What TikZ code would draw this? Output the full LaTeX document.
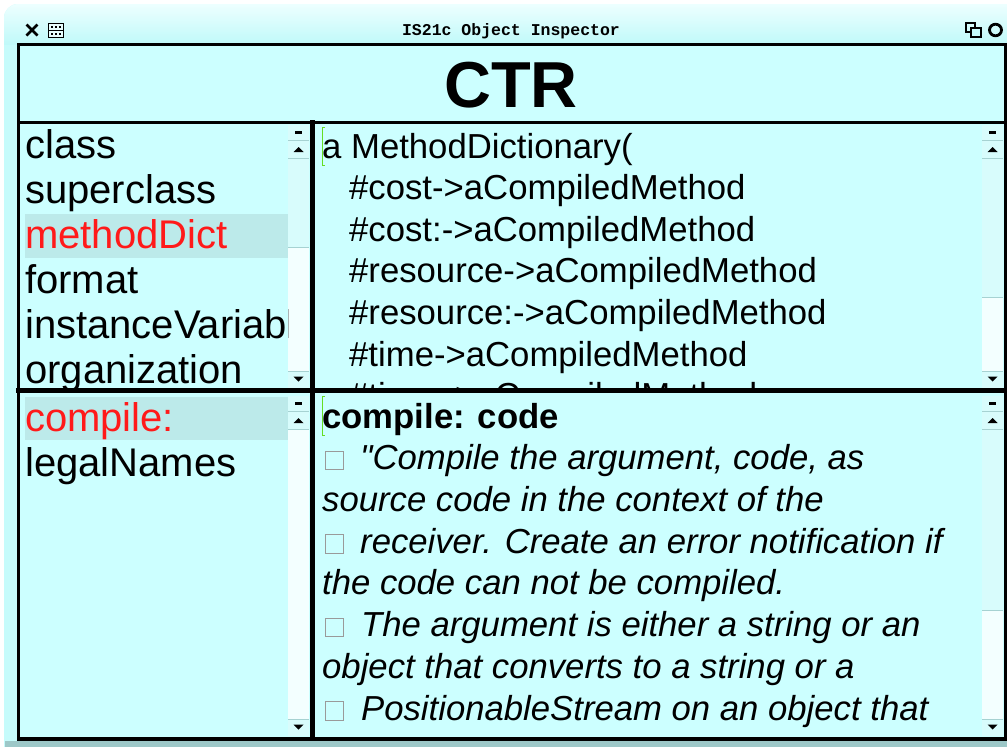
\documentclass[tikz,border=0pt]{standalone}
\usepackage{fontspec}
\setmainfont{Liberation Sans}
\newfontfamily\titlefont{Liberation Mono}
\newfontfamily\rawsans{Liberation Sans}
\definecolor{winbg}{HTML}{C6FBFB}
\definecolor{titletop}{HTML}{EEFFFF}
\definecolor{titlebot}{HTML}{C0F9F9}
\definecolor{panebg}{HTML}{CCFFFF}
\definecolor{hilite}{HTML}{BCEAEA}
\definecolor{trackA}{HTML}{D8FCFC}
\definecolor{trackB}{HTML}{F3FFFF}
\definecolor{sbline}{HTML}{A6D2D2}
\definecolor{band}{HTML}{9DC8C8}
\definecolor{redtext}{HTML}{FF1A1A}
\definecolor{cursorgreen}{HTML}{66DD22}
\definecolor{boxgray}{HTML}{9A9A9A}
\newcommand{\sbar}[4]{%
  \fill[trackA] (#1,#2) rectangle ({#1+21},#4);
  \fill[trackB] (#1,#4) rectangle ({#1+21},#3);
  \fill[trackA] (#1,{#3-17}) rectangle ({#1+21},#3);
  \draw[sbline,line width=0.9pt] (#1,{#2+15}) -- ({#1+21},{#2+15});
  \draw[sbline,line width=0.9pt] (#1,{#2+33}) -- ({#1+21},{#2+33});
  \draw[sbline,line width=0.9pt] (#1,#4) -- ({#1+21},#4);
  \draw[sbline,line width=0.9pt] (#1,{#3-17}) -- ({#1+21},{#3-17});
  \fill[black] ({#1+7},{#2+6}) rectangle ({#1+14},{#2+9});
  \fill[black] ({#1+5.5},{#2+27}) -- ({#1+15.5},{#2+27}) -- ({#1+10.5},{#2+22}) -- cycle;
  \fill[black] ({#1+5.5},{#3-11.5}) -- ({#1+15.5},{#3-11.5}) -- ({#1+10.5},{#3-6.5}) -- cycle;
}
\begin{document}
\begin{tikzpicture}[x=1pt,y=-1pt,
  lt/.style={anchor=base west,inner sep=0pt,font=\fontsize{40}{40}\selectfont},
  rt/.style={anchor=base west,inner sep=0pt,font=\fontsize{34.7}{35}\selectfont},
  ri/.style={anchor=base west,inner sep=0pt,font=\fontsize{34.7}{35}\selectfont\itshape},
  rb/.style={anchor=base west,inner sep=0pt,font=\fontsize{34.7}{35}\selectfont\bfseries},
  chk/.style={draw=boxgray,line width=1pt},
  frame/.style={black,line cap=rect},
  cur/.style={cursorgreen,line width=1pt}]
\useasboundingbox (0,0) rectangle (1007,747);
\fill[white] (0,0) rectangle (1007,747);
% window
\fill[winbg] (4,747) -- (4,18) arc[start angle=180,end angle=270,radius=14] -- (1007,4) -- (1007,747) -- cycle;
\begin{scope}
  \clip (4,747) -- (4,18) arc[start angle=180,end angle=270,radius=14] -- (1007,4) -- (1007,747) -- cycle;
  \shade[top color=titletop,bottom color=titlebot] (0,3) rectangle (1007,44);
\end{scope}
\fill[band] (5,741) rectangle (1007,747);
% title bar
\node[name=title,inner sep=0pt,anchor=base,font=\titlefont\bfseries\fontsize{16.5}{17}\selectfont] at (511,35) {IS21c Object Inspector};
\draw[line width=2.8pt] (26.5,24.5) -- (37.5,35.5) (26.5,35.5) -- (37.5,24.5);
\draw[line width=1pt,fill=white!60!winbg] (48,23) rectangle (63,37);
\draw[line width=0.8pt] (48,30) -- (63,30);
\foreach \xx in {51,55,59} {\fill (\xx,25.5) rectangle (\xx+2,27.5); \fill (\xx,32.5) rectangle (\xx+2,34.5);}
\draw[line width=1.1pt] (966,23) rectangle (975,32);
\draw[line width=1.1pt,fill=winbg] (971,28) rectangle (981,37);
\draw[line width=2.8pt] (995.5,30) ellipse[x radius=6,y radius=5.8];
% panes background
\fill[panebg] (18.5,44) rectangle (1005,738.7);
% scrollbars
\sbar{288}{125}{388}{247}
\sbar{982}{125}{388}{297}
\sbar{288}{396}{736}{429}
\sbar{982}{396}{736}{610}
% header
\node[name=ctr,anchor=base,inner sep=0pt,font=\fontsize{65}{65}\selectfont\bfseries] at (511,107) {CTR};
% top-left list
\begin{scope}
  \clip (20,125) rectangle (288,388);
  \fill[hilite] (25,214) rectangle (288,258);
  \node[lt,name=l1] at (25,158) {class};
  \node[lt,name=l2] at (25,203) {superclass};
  \node[lt,name=l3,text=redtext] at (25,248) {methodDict};
  \node[lt,name=l4] at (25,293) {format};
  \node[lt,name=l5] at (25,338) {instanceVariables};
  \node[lt,name=l6] at (25,383) {organization};
\end{scope}
% top-right value
\begin{scope}
  \clip (316,125) rectangle (982,388);
  \draw[cur] (325,127) -- (322.5,127) -- (322.5,165) -- (325,165);
  \node[rt,name=r1] at (322,158) {a MethodDictionary(};
  \node[rt,name=r2] at (349,199.6) {\#cost->aCompiledMethod};
  \node[rt,name=r3] at (349,241.2) {\#cost:->aCompiledMethod};
  \node[rt,name=r4] at (349,282.8) {\#resource->aCompiledMethod};
  \node[rt,name=r5] at (349,324.4) {\#resource:->aCompiledMethod};
  \node[rt,name=r6] at (349,366) {\#time->aCompiledMethod};
  \node[rt,name=r7] at (349,407.6) {\#time:->aCompiledMethod};
\end{scope}
% bottom-left list
\begin{scope}
  \clip (20,393) rectangle (288,736);
  \fill[hilite] (25,397) rectangle (288,440);
  \node[lt,name=m1,text=redtext] at (25,431) {compile:};
  \node[lt,name=m2] at (25,476) {legalNames};
\end{scope}
% bottom-right source
\begin{scope}
  \clip (316,393) rectangle (982,736);
  \draw[cur] (325,396) -- (322.5,396) -- (322.5,435) -- (325,435);
  \node[rb,name=s0] at (322,428) {compile: code};
  \draw[chk] (325,451) rectangle (343,469.5);
  \node[ri,name=s1] at (360,469.7) {{\rawsans\itshape "}Compile the argument, code, as};
  \node[ri,name=s2] at (322,511.4) {source code in the context of the};
  \draw[chk] (325,534.5) rectangle (343,553);
  \node[ri,name=s3] at (360,553) {receiver. Create an error notification if};
  \node[ri,name=s4] at (322,594.8) {the code can not be compiled.};
  \draw[chk] (325,618) rectangle (343,636.5);
  \node[ri,name=s5] at (361,636.5) {The argument is either a string or an};
  \node[ri,name=s6] at (322,678.2) {object that converts to a string or a};
  \draw[chk] (325,701.5) rectangle (343,720);
  \node[ri,name=s7] at (361,720) {PositionableStream on an object that};
\end{scope}
% frame lines
\draw[frame,line width=3pt] (18.5,44) -- (1005,44);
\draw[frame,line width=3pt] (18.5,44) -- (18.5,738.7);
\draw[frame,line width=3pt] (1005,44) -- (1005,738.7);
\draw[frame,line width=4pt] (18.5,738.7) -- (1005,738.7);
\draw[frame,line width=3.5pt] (18.5,122.5) -- (1005,122.5);
\draw[frame,line width=5pt] (18.5,390.5) -- (1005,390.5);
\draw[frame,line width=5.5pt] (312.5,122.5) -- (312.5,738.7);
\end{tikzpicture}
\end{document}
